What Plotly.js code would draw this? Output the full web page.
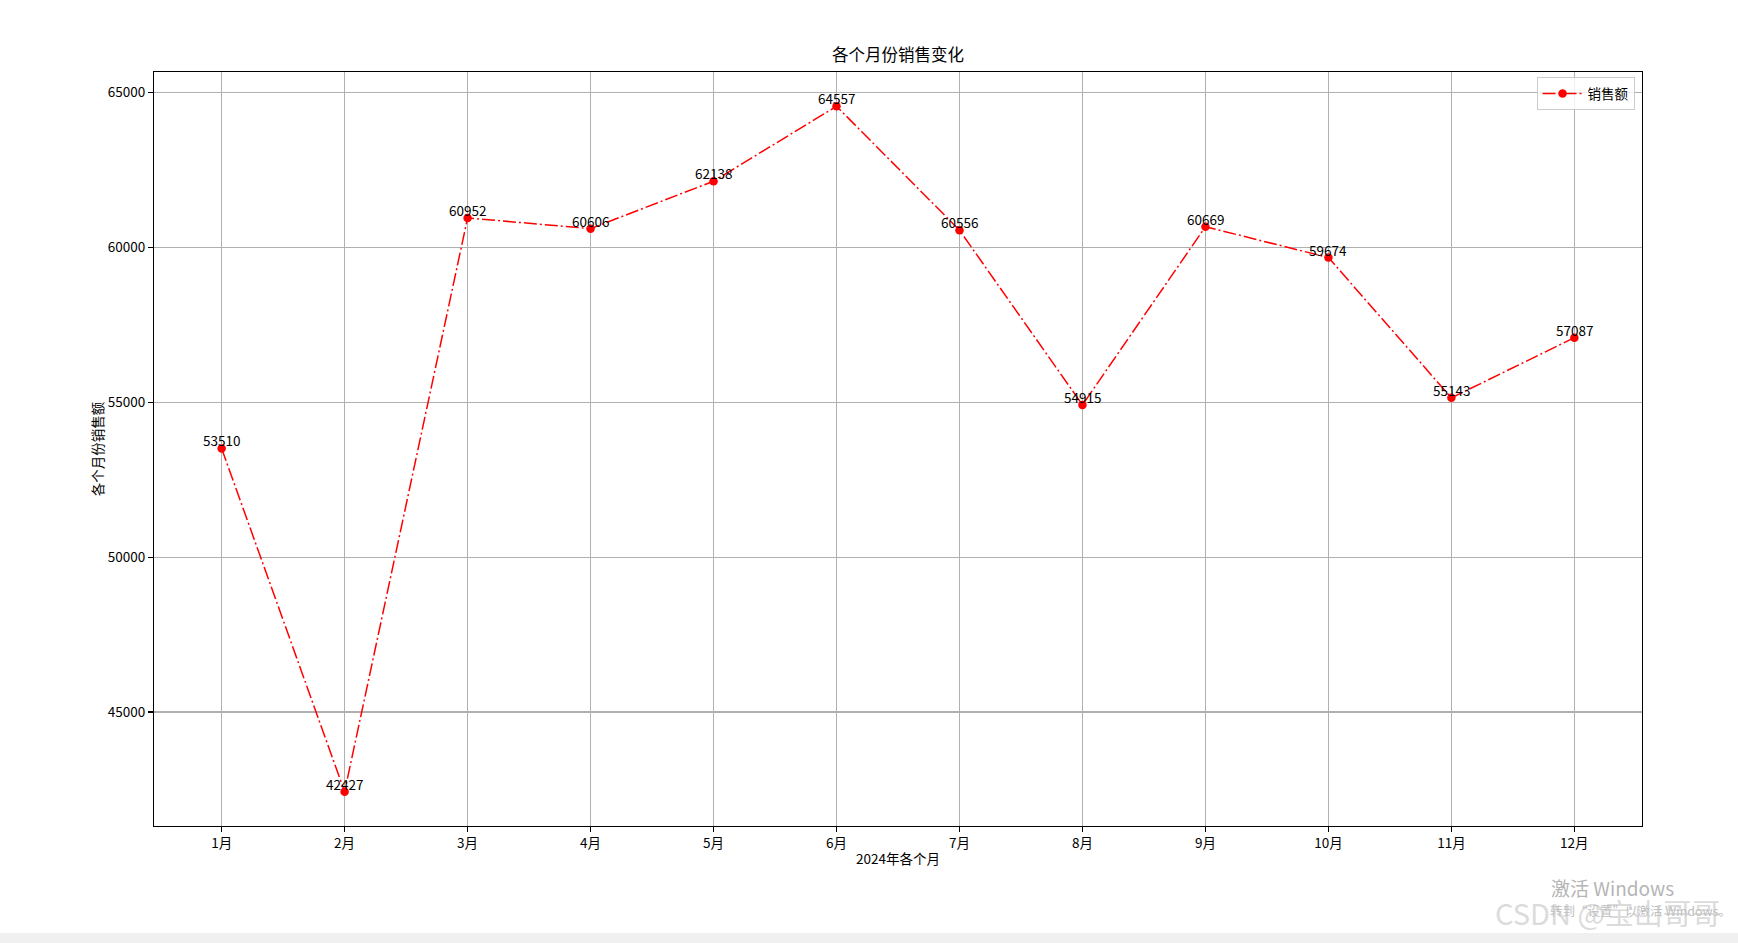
<!DOCTYPE html>
<html>
<head>
<meta charset="utf-8">
<script src="https://cdn.plot.ly/plotly-3.0.1.min.js"></script>
<style>html,body{margin:0;padding:0;background:#fff;overflow:hidden}#chart{width:1738px;height:943px}</style>
</head>
<body>
<div id="chart"></div>
<script>
const months = ["1月","2月","3月","4月","5月","6月","7月","8月","9月","10月","11月","12月"];
const sales = [53510, 42427, 60952, 60606, 62138, 64557, 60556, 54915, 60669, 59674, 55143, 57087];
const yTicks = [45000, 50000, 55000, 60000, 65000];
const seriesName = "销售额";
const titleText = "各个月份销售变化";
const xTitle = "2024年各个月";
const yTitle = "各个月份销售额";

const FONT = "'Noto Sans CJK SC', 'DejaVu Sans', sans-serif";
const xIdx = months.map((m, i) => i);

const trace = {
  x: xIdx, y: sales, type: "scatter", mode: "lines+markers", name: seriesName,
  line: {color: "#ff0000", width: 1.5, dash: "13px,3px,2px,3px"},
  marker: {color: "#ff0000", size: 8.5},
  cliponaxis: false
};

const lo = Math.min(...sales), hi = Math.max(...sales), pad = (hi - lo) * 0.05;

const annotations = sales.map((v, i) => ({
  x: i, y: v, xref: "x", yref: "y", text: String(v), showarrow: false,
  yanchor: "bottom", xanchor: "center", yshift: -3, borderpad: 0,
  font: {family: FONT, size: 13.5, color: "#000"}
}));
annotations.push({xref: "paper", yref: "paper", x: 0.9805, y: -0.081, xanchor: "center", yanchor: "middle",
  text: "激活 Windows", showarrow: false, font: {family: FONT, size: 19, color: "#b5b5b5"}});
annotations.push({xref: "paper", yref: "paper", x: 0.999, y: -0.112, xanchor: "center", yanchor: "middle",
  text: "转到“设置”以激活 Windows。", showarrow: false, font: {family: FONT, size: 12.5, color: "#c0c0c0"}});
annotations.push({xref: "paper", yref: "paper", x: 0.977, y: -0.114, xanchor: "center", yanchor: "middle",
  text: "CSDN @宝山哥哥", showarrow: false, font: {family: FONT, size: 29, color: "rgba(195,195,195,0.6)"}});

const axisCommon = {
  showline: true, linecolor: "#000", linewidth: 1.1, mirror: true,
  showgrid: true, gridcolor: "#b0b0b0", gridwidth: 1.1,
  ticks: "outside", ticklen: 5, tickwidth: 1.1, tickcolor: "#000",
  zeroline: false, tickfont: {family: FONT, size: 13.5, color: "#000"}
};

const layout = {
  width: 1738, height: 943,
  margin: {l: 154, r: 96, t: 72, b: 117},
  paper_bgcolor: "#fff", plot_bgcolor: "#fff",
  title: {text: titleText, xref: "paper", x: 0.5, xanchor: "center", y: 1 - 55/943, yanchor: "middle",
    font: {family: FONT, size: 16.5, color: "#000"}},
  xaxis: Object.assign({}, axisCommon, {
    tickmode: "array", tickvals: xIdx, ticktext: months,
    range: [-0.55, months.length - 1 + 0.55],
    title: {text: xTitle, standoff: 3, font: {family: FONT, size: 13.5, color: "#000"}}
  }),
  yaxis: Object.assign({}, axisCommon, {
    tickmode: "array", tickvals: yTicks, ticktext: yTicks.map(String),
    range: [lo - pad, hi + pad],
    title: {text: yTitle, standoff: 1, font: {family: FONT, size: 13.5, color: "#000"}}
  }),
  showlegend: true,
  legend: {x: 0.995, y: 0.993, xanchor: "right", yanchor: "top",
    bgcolor: "rgba(255,255,255,0.8)", bordercolor: "#cccccc", borderwidth: 1,
    font: {family: FONT, size: 13.5, color: "#000"}, itemwidth: 40},
  annotations: annotations,
  shapes: [{type: "rect", xref: "paper", yref: "paper", x0: -0.2, x1: 1.2,
    y0: -(933 - 826) / 754, y1: -0.2, fillcolor: "#f0f0f0", line: {width: 0}, layer: "below"}]
};

Plotly.newPlot("chart", [trace], layout, {displayModeBar: false, staticPlot: true});
</script>
</body>
</html>
